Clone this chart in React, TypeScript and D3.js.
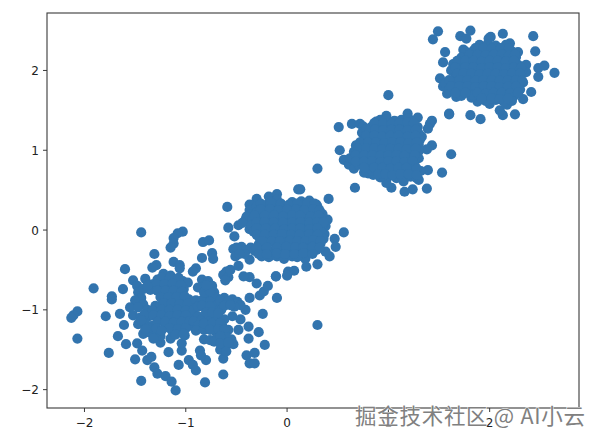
import React from "react";
import * as d3 from "d3";

const xTicks = [-2, -1, 0, 1, 2];
const yTicks = [-2, -1, 0, 1, 2];
const watermark = "掘金技术社区 @ AI小云";

const clusterLowLeftOuter: [number, number][] = [
[-1.44,-0.03],[-1.03,-0.02],[-1.08,-0.04],[-1.12,-0.10],[-1.12,-0.17],[-1.15,-0.22],[-1.31,-0.30],[-0.83,-0.15],[-0.77,-0.13],[-0.84,-0.35],[-0.74,-0.29],[-0.73,-0.36],[-1.29,-0.44],[-1.33,-0.47],[-1.12,-0.40],[-1.06,-0.44],[-1.06,-0.48],[-0.90,-0.48],[-0.93,-0.52],[-1.60,-0.49],[-1.52,-0.63],[-1.40,-0.61],[-1.62,-0.74],[-1.91,-0.73],[-1.73,-0.83],[-1.73,-0.87],[-2.07,-1.02],[-2.11,-1.07],[-2.13,-1.10],[-2.07,-1.36],[-1.79,-1.08],[-1.65,-1.05],[-1.61,-1.19],[-1.67,-1.33],[-1.59,-1.43],[-1.76,-1.54],[-1.48,-1.42],[-1.43,-1.51],[-1.50,-1.62],[-1.38,-1.63],[-1.34,-1.59],[-1.31,-1.72],[-1.28,-1.80],[-1.44,-1.89],[-1.20,-1.83],[-1.14,-1.90],[-1.10,-2.01],[-1.07,-1.69],[-0.97,-1.63],[-0.93,-1.69],[-0.90,-1.76],[-0.81,-1.91],[-0.63,-1.81],[-0.80,-1.63],[-0.86,-1.51],[-0.85,-1.57],[-0.63,-1.61],[-1.17,-1.53],[-1.04,-1.51],[-1.15,-1.36],[-1.25,-1.41],[-1.04,-1.42],[-1.01,-1.32],[-0.40,-1.57],[-0.32,-1.54],[-0.37,-1.67],[-0.32,-1.67],[-0.22,-1.44],[-0.38,-1.36],[-0.28,-1.28],[-0.38,-1.21],[-0.48,-1.25],[-0.24,-1.05],[-0.46,-1.12],[-0.54,-1.08],[-0.41,-1.00],[-0.10,-0.85],[-0.37,-0.85],[-0.27,-0.82],[-0.23,-0.77],[-0.19,-0.70],[-0.11,-0.58],[-0.30,-0.67],[-0.37,-0.59],[-0.43,-0.58],[-0.60,-0.52],[-0.63,-0.56],[-0.58,-0.59],[-0.61,-0.63],[-0.56,-0.50]
];
const clusterLowLeftA: [number, number][] = [
[-1.22,-0.55],[-1.15,-0.57],[-1.28,-0.62],[-1.20,-0.64],[-1.10,-0.62],[-1.03,-0.64],[-0.98,-0.66],[-1.33,-0.68],[-1.25,-0.72],[-1.17,-0.71],[-1.10,-0.72],[-1.02,-0.74],[-1.35,-0.75],[-1.48,-0.70],[-1.47,-0.78],[-1.44,-0.85],[-1.50,-0.88],[-1.42,-0.93],[-1.55,-0.97],[-1.47,-0.97],[-1.38,-1.00],[-1.30,-0.95],[-1.22,-0.80],[-1.14,-0.80],[-1.06,-0.82],[-1.20,-0.88],[-1.12,-0.88],[-1.04,-0.90],[-0.97,-0.87],[-1.25,-0.95],[-1.17,-0.96],[-1.09,-0.96],[-1.00,-0.97],[-0.92,-0.94],[-1.28,-1.03],[-1.20,-1.04],[-1.12,-1.03],[-1.04,-1.05],[-0.96,-1.04],[-1.52,-1.07],[-1.45,-1.10],[-1.36,-1.08],[-1.24,-1.11],[-1.16,-1.12],[-1.08,-1.12],[-1.00,-1.13],[-1.47,-1.18],[-1.40,-1.17],[-1.33,-1.20],[-1.20,-1.19],[-1.12,-1.20],[-1.04,-1.21],[-0.97,-1.20],[-1.42,-1.30],[-1.35,-1.29],[-1.28,-1.27],[-1.25,-1.33],[-1.13,-1.27],[-1.05,-1.28],[-1.32,-1.36],
[-1.24,-0.60],[-1.16,-0.61],[-1.07,-0.60],[-1.29,-0.68],[-1.21,-0.68],[-1.13,-0.67],[-1.05,-0.69],[-1.28,-0.76],[-1.20,-0.76],[-1.12,-0.76],[-1.04,-0.77],[-1.42,-0.74],[-1.38,-0.70],[-1.25,-0.84],[-1.17,-0.84],[-1.09,-0.84],[-1.01,-0.83],[-1.22,-0.92],[-1.14,-0.92],[-1.06,-0.93],[-0.98,-0.92],[-1.33,-1.01],[-1.24,-1.00],[-1.16,-1.00],[-1.08,-1.00],[-1.00,-1.01],[-0.92,-1.00],[-1.41,-1.06],[-1.32,-1.07],[-1.24,-1.07],[-1.16,-1.08],[-1.08,-1.07],[-1.00,-1.07],[-1.28,-1.15],[-1.20,-1.15],[-1.12,-1.16],[-1.04,-1.15],[-0.96,-1.14],[-1.37,-1.23],[-1.29,-1.23],[-1.16,-1.23],[-1.08,-1.24],[-1.00,-1.23],[-1.24,-1.26],[-1.10,-1.31],[-1.02,-1.30],[-1.40,-1.24],[-1.44,-1.13],[-0.88,-1.08],[-0.92,-1.14]
];
const clusterLowLeftB: [number, number][] = [
[-0.84,-0.62],[-0.78,-0.64],[-0.74,-0.70],[-0.88,-0.72],[-0.80,-0.73],[-0.72,-0.78],[-0.78,-0.82],[-0.70,-0.85],[-0.62,-0.85],[-0.54,-0.87],[-0.49,-0.90],[-0.46,-0.94],[-0.90,-0.88],[-0.84,-0.88],[-0.76,-0.90],[-0.68,-0.93],[-0.60,-0.93],[-0.52,-0.96],[-0.88,-0.96],[-0.80,-0.97],[-0.72,-1.00],[-0.65,-1.00],[-0.76,-1.07],[-0.70,-1.07],[-0.84,-1.12],[-0.78,-1.13],[-0.70,-1.14],[-0.62,-1.12],[-0.88,-1.20],[-0.80,-1.20],[-0.72,-1.21],[-0.64,-1.20],[-0.58,-1.25],[-0.90,-1.26],[-0.82,-1.25],[-0.70,-1.28],[-0.62,-1.30],[-0.82,-1.37],[-0.76,-1.38],[-0.69,-1.35],[-0.62,-1.38],[-0.55,-1.37],[-0.60,-1.45],[-0.53,-1.43],[-0.66,-1.50],[-0.72,-1.40],[-0.60,-1.52],
[-0.66,-0.88],[-0.58,-0.89],[-0.84,-0.95],[-0.76,-0.96],[-0.62,-0.95],[-0.56,-0.94],[-0.80,-1.03],[-0.74,-1.03],[-0.68,-1.04],[-0.82,-0.78],[-0.76,-0.77],[-0.80,-0.69],[-0.82,-1.17],[-0.74,-1.17],[-0.66,-1.17],[-0.76,-1.25],[-0.68,-1.24],[-0.62,-1.25],[-0.60,-1.34],[-0.66,-1.33],[-0.66,-1.42],[-0.58,-1.41]
];
const clusterCenterOuter: [number, number][] = [
[-0.58,0.03],[-0.52,-0.08],[-0.48,0.06],[-0.53,-0.24],[-0.48,-0.45],[-0.37,-0.37],[0.11,0.51],[0.13,0.51],[0.41,0.39],[-0.59,0.29],[-0.10,0.45],[-0.18,0.42],[-0.30,0.39],[-0.37,0.32],[-0.41,0.13],[0.56,-0.03],[0.47,-0.11],[0.48,-0.21],[0.40,0.13],[0.29,0.32],[0.42,-0.33],[0.38,-0.27],[0.30,-0.43],[0.19,-0.46],[0.18,-0.36],[0.13,-0.29],[0.07,-0.51],[0.01,-0.52],[0.00,-0.57],[-0.11,-0.58],[-0.51,-0.33],[-0.45,-0.21],[-0.40,-0.25],[0.30,0.77],[-0.36,-0.22],[-0.50,-0.22],[-0.42,-0.30],[-0.47,-0.30],[-0.37,0.25],[-0.36,0.20],[-0.40,0.17],[0.38,0.05],[0.37,-0.05],[-0.36,0.08],[-0.37,0.01],[-0.44,0.09]
];
const clusterCenterInner: [number, number][] = [
[-0.17,0.36],[-0.10,0.38],[0.05,0.35],[0.14,0.36],[0.22,0.37],[-0.30,0.30],[-0.22,0.31],[-0.12,0.29],[-0.04,0.30],[0.06,0.28],[0.16,0.30],[0.24,0.31],[0.30,0.29],[-0.30,0.22],[-0.22,0.21],[-0.14,0.23],[-0.05,0.22],[0.04,0.20],[0.12,0.23],[0.20,0.21],[0.29,0.22],[0.35,0.20],[-0.34,0.14],[-0.25,0.13],[-0.17,0.15],[-0.08,0.14],[0.01,0.13],[0.09,0.15],[0.18,0.14],[0.27,0.12],[0.33,0.15],[-0.35,0.06],[-0.26,0.05],[-0.18,0.07],[-0.09,0.06],[0.00,0.05],[0.08,0.07],[0.17,0.06],[0.25,0.04],[0.35,0.06],[-0.33,-0.02],[-0.24,-0.01],[-0.15,-0.03],[-0.07,-0.02],[0.02,-0.01],[0.10,-0.03],[0.18,-0.02],[0.26,-0.01],[0.34,-0.03],[-0.27,-0.10],[-0.20,-0.09],[-0.11,-0.11],[-0.03,-0.10],[0.06,-0.09],[0.14,-0.11],[0.22,-0.10],[0.30,-0.09],[0.36,-0.11],[-0.28,-0.18],[-0.19,-0.17],[-0.10,-0.19],[0.00,-0.18],[0.08,-0.17],[0.17,-0.19],[0.25,-0.18],[0.33,-0.17],[-0.32,-0.26],[-0.24,-0.25],[-0.15,-0.27],[-0.05,-0.26],[0.03,-0.25],[0.12,-0.22],[0.21,-0.26],[0.29,-0.25],[-0.25,-0.33],[-0.18,-0.34],[-0.10,-0.33],[-0.03,-0.36],[0.05,-0.33],[0.10,-0.34],
[-0.26,0.33],[-0.16,0.34],[-0.06,0.33],[0.02,0.32],[0.10,0.33],[0.20,0.34],[0.27,0.33],[-0.26,0.26],[-0.17,0.26],[-0.08,0.25],[0.00,0.26],[0.09,0.26],[0.17,0.25],[0.26,0.26],[0.32,0.25],[-0.32,0.18],[-0.22,0.18],[-0.13,0.18],[-0.04,0.17],[0.05,0.18],[0.13,0.18],[0.23,0.17],[0.31,0.18],[-0.30,0.10],[-0.22,0.10],[-0.13,0.10],[-0.04,0.09],[0.05,0.10],[0.13,0.10],[0.22,0.09],[0.30,0.10],[0.36,0.10],[-0.30,0.02],[-0.21,0.02],[-0.12,0.02],[-0.03,0.01],[0.05,0.02],[0.13,0.02],[0.22,0.01],[0.30,0.02],[-0.30,-0.06],[-0.22,-0.06],[-0.13,-0.06],[-0.05,-0.05],[0.04,-0.06],[0.12,-0.06],[0.22,-0.05],[0.30,-0.06],[-0.24,-0.14],[-0.15,-0.14],[-0.07,-0.14],[0.03,-0.13],[0.10,-0.14],[0.18,-0.14],[0.26,-0.13],[0.33,-0.14],[-0.30,-0.22],[-0.20,-0.22],[-0.10,-0.22],[-0.01,-0.21],[0.08,-0.22],[0.16,-0.22],[0.25,-0.21],[0.32,-0.22],[-0.28,-0.30],[-0.20,-0.30],[-0.10,-0.29],[-0.02,-0.30],[0.07,-0.30],[0.16,-0.29],[0.25,-0.30]
];
const clusterUpperOuter: [number, number][] = [
[1.00,1.69],[0.98,1.43],[1.19,1.46],[1.29,1.41],[1.43,1.37],[1.41,1.33],[1.39,1.27],[1.60,1.46],[1.62,0.95],[1.53,0.72],[1.38,0.52],[1.24,0.51],[1.16,0.48],[1.03,0.53],[0.67,0.53],[0.51,1.29],[0.64,1.33],[0.72,1.33],[0.88,1.36],[0.52,1.00],[0.56,0.88],[0.61,0.82],[0.66,0.77],[1.43,1.06],[1.38,1.01],[1.39,0.75],[1.33,1.17],[1.30,0.90],[0.80,0.71],[0.85,0.69],[0.98,0.59],[1.15,0.61],[1.30,0.63],[0.76,0.72],[0.62,0.90]
];
const clusterUpperInner: [number, number][] = [
[0.92,1.38],[0.98,1.39],[1.06,1.37],[1.13,1.38],[1.20,1.40],[0.75,1.30],[0.83,1.29],[0.91,1.31],[0.99,1.30],[1.07,1.29],[1.15,1.31],[1.23,1.30],[1.29,1.29],[0.74,1.22],[0.82,1.21],[0.90,1.23],[0.98,1.22],[1.06,1.21],[1.14,1.23],[1.22,1.22],[1.30,1.21],[0.76,1.14],[0.84,1.13],[0.92,1.15],[1.00,1.14],[1.08,1.13],[1.16,1.15],[1.24,1.14],[1.31,1.13],[0.68,1.06],[0.76,1.05],[0.84,1.07],[0.92,1.06],[1.00,1.05],[1.08,1.07],[1.16,1.06],[1.24,1.05],[1.30,1.07],[0.66,0.98],[0.74,0.97],[0.82,0.99],[0.90,0.98],[0.98,0.97],[1.06,0.99],[1.14,0.98],[1.22,0.97],[1.30,0.99],[0.64,0.90],[0.72,0.89],[0.80,0.91],[0.88,0.90],[0.96,0.89],[1.04,0.91],[1.12,0.90],[1.20,0.89],[1.27,0.91],[0.70,0.82],[0.78,0.81],[0.86,0.83],[0.94,0.82],[1.02,0.81],[1.10,0.83],[1.18,0.82],[1.26,0.81],[0.84,0.74],[0.92,0.75],[1.00,0.73],[1.08,0.74],[1.16,0.75],[1.24,0.73],[1.32,0.74],[0.92,0.66],[1.00,0.67],[1.08,0.65],[1.14,0.66],[1.22,0.67],[1.28,0.65],
[0.86,1.34],[0.95,1.34],[1.03,1.33],[1.11,1.34],[1.19,1.35],[1.25,1.34],[0.78,1.26],[0.87,1.26],[0.95,1.25],[1.03,1.26],[1.11,1.26],[1.19,1.25],[1.27,1.26],[0.78,1.18],[0.86,1.18],[0.94,1.17],[1.02,1.18],[1.10,1.18],[1.19,1.17],[1.27,1.18],[0.72,1.10],[0.80,1.10],[0.88,1.10],[0.96,1.09],[1.04,1.10],[1.12,1.10],[1.20,1.09],[1.28,1.10],[0.70,1.02],[0.78,1.02],[0.86,1.02],[0.94,1.01],[1.02,1.02],[1.10,1.02],[1.18,1.01],[1.27,1.02],[0.68,0.94],[0.76,0.94],[0.84,0.94],[0.92,0.93],[1.00,0.94],[1.08,0.94],[1.16,0.93],[1.26,0.94],[0.68,0.86],[0.76,0.86],[0.84,0.86],[0.92,0.85],[1.00,0.86],[1.08,0.86],[1.16,0.85],[1.24,0.86],[0.76,0.78],[0.86,0.78],[0.94,0.78],[1.02,0.77],[1.10,0.78],[1.18,0.78],[1.28,0.77],[0.90,0.70],[0.97,0.70],[1.04,0.69],[1.12,0.70],[1.20,0.70],[1.28,0.69]
];
const clusterTopOuter: [number, number][] = [
[1.49,2.49],[1.44,2.39],[1.56,2.23],[1.54,2.10],[1.71,2.43],[1.81,2.50],[1.77,2.40],[2.01,2.42],[1.99,2.40],[2.13,2.46],[2.43,2.43],[2.45,2.24],[2.64,1.97],[2.54,2.06],[2.48,2.03],[2.48,1.92],[2.36,2.07],[2.36,1.98],[2.41,1.73],[2.33,1.64],[2.25,1.45],[2.13,1.44],[2.10,1.50],[2.17,1.57],[2.00,1.58],[1.91,1.39],[1.81,1.44],[1.60,1.45],[1.88,1.61],[1.82,1.66],[1.67,1.67],[1.58,1.71],[1.51,1.90],[1.54,1.80],[2.20,2.34],[2.28,2.23],[1.74,2.26]
];
const clusterTopInner: [number, number][] = [
[1.90,2.32],[1.98,2.33],[2.06,2.31],[2.16,2.32],[1.76,2.24],[1.84,2.25],[1.92,2.23],[2.00,2.24],[2.08,2.25],[2.16,2.23],[2.22,2.24],[1.72,2.16],[1.80,2.17],[1.88,2.15],[1.96,2.16],[2.04,2.17],[2.12,2.15],[2.20,2.16],[2.26,2.17],[1.64,2.08],[1.72,2.09],[1.80,2.07],[1.88,2.08],[1.96,2.09],[2.04,2.07],[2.12,2.08],[2.20,2.09],[2.28,2.07],[1.62,2.00],[1.70,2.01],[1.78,1.99],[1.86,2.00],[1.94,2.01],[2.02,1.99],[2.10,2.00],[2.18,2.01],[2.26,1.99],[2.32,2.00],[1.66,1.92],[1.74,1.93],[1.82,1.91],[1.90,1.92],[1.98,1.93],[2.06,1.91],[2.14,1.92],[2.22,1.93],[2.30,1.91],[1.56,1.84],[1.64,1.85],[1.72,1.83],[1.80,1.84],[1.88,1.85],[1.96,1.83],[2.04,1.84],[2.12,1.85],[2.20,1.83],[2.28,1.84],[2.33,1.85],[1.60,1.76],[1.68,1.77],[1.76,1.75],[1.84,1.76],[1.92,1.77],[2.00,1.75],[2.08,1.76],[2.16,1.77],[2.24,1.75],[2.30,1.76],[1.72,1.68],[1.84,1.69],[1.92,1.67],[2.00,1.68],[2.08,1.69],[2.16,1.67],[2.24,1.68],[1.96,1.62],[2.06,1.63],[2.14,1.61],[2.22,1.62],
[1.86,2.28],[1.94,2.28],[2.02,2.27],[2.11,2.28],[2.19,2.28],[1.80,2.20],[1.88,2.20],[1.96,2.19],[2.04,2.20],[2.12,2.20],[2.19,2.19],[2.25,2.20],[1.68,2.12],[1.76,2.12],[1.84,2.12],[1.92,2.11],[2.00,2.12],[2.08,2.12],[2.16,2.11],[2.24,2.12],[1.66,2.04],[1.76,2.04],[1.84,2.04],[1.92,2.03],[2.00,2.04],[2.08,2.04],[2.16,2.03],[2.24,2.04],[2.31,2.04],[1.68,1.96],[1.74,1.96],[1.82,1.96],[1.90,1.95],[1.98,1.96],[2.06,1.96],[2.14,1.95],[2.22,1.96],[2.30,1.96],[1.60,1.88],[1.70,1.88],[1.78,1.88],[1.86,1.87],[1.94,1.88],[2.02,1.88],[2.10,1.87],[2.18,1.88],[2.26,1.88],[2.32,1.87],[1.62,1.80],[1.70,1.80],[1.78,1.80],[1.86,1.79],[1.94,1.80],[2.02,1.80],[2.10,1.79],[2.18,1.80],[2.26,1.80],[1.66,1.72],[1.76,1.72],[1.88,1.72],[1.96,1.71],[2.04,1.72],[2.12,1.72],[2.20,1.71],[2.28,1.72],[1.92,1.65],[2.02,1.65],[2.10,1.64],[2.18,1.65]
];
const strayPoints: [number, number][] = [[0.30,-1.19]];

const points = [
  ...clusterLowLeftOuter, ...clusterLowLeftA, ...clusterLowLeftB,
  ...clusterCenterOuter, ...clusterCenterInner,
  ...clusterUpperOuter, ...clusterUpperInner,
  ...clusterTopOuter, ...clusterTopInner, ...strayPoints,
];

const W = 600, H = 443;
const L = 47, R = 579, T = 13, B = 408;
const x = d3.scaleLinear().domain([-2.37, 2.882]).range([L, R]);
const y = d3.scaleLinear().domain([-2.23, 2.72]).range([B, T]);
const fmt = (v: number) => (v < 0 ? "\u2212" + Math.abs(v) : String(v));
const axisColor = "#3a3a3a";
const font = "'DejaVu Sans', sans-serif";

export default function App() {
  return (
    <svg width={W} height={H} viewBox={`0 0 ${W} ${H}`} style={{ position: "absolute", left: 0, top: 0, background: "#fff" }}>
      <g fill="#3274ae">
        {points.map((p, i) => <circle key={i} cx={x(p[0])} cy={y(p[1])} r={5.1} />)}
      </g>
      <rect x={L} y={T} width={R - L} height={B - T} fill="none" stroke={axisColor} strokeWidth={1.1} />
      {xTicks.map((t) => (
        <g key={t}>
          <line x1={x(t)} x2={x(t)} y1={B} y2={B + 4} stroke={axisColor} strokeWidth={1} />
          <text x={x(t)} y={B + 19} textAnchor="middle" fontFamily={font} fontSize={12} fill="#222">{fmt(t)}</text>
        </g>
      ))}
      {yTicks.map((t) => (
        <g key={t}>
          <line x1={L - 4} x2={L} y1={y(t)} y2={y(t)} stroke={axisColor} strokeWidth={1} />
          <text x={L - 8} y={y(t) + 4.5} textAnchor="end" fontFamily={font} fontSize={12} fill="#222">{fmt(t)}</text>
        </g>
      ))}
      <text x={355} y={424} fontFamily="'Noto Sans CJK SC', sans-serif" fontSize={21.5} textLength={230} lengthAdjust="spacing" fill="#808080" stroke="#fff" strokeWidth={1} paintOrder="stroke">{watermark}</text>
    </svg>
  );
}
